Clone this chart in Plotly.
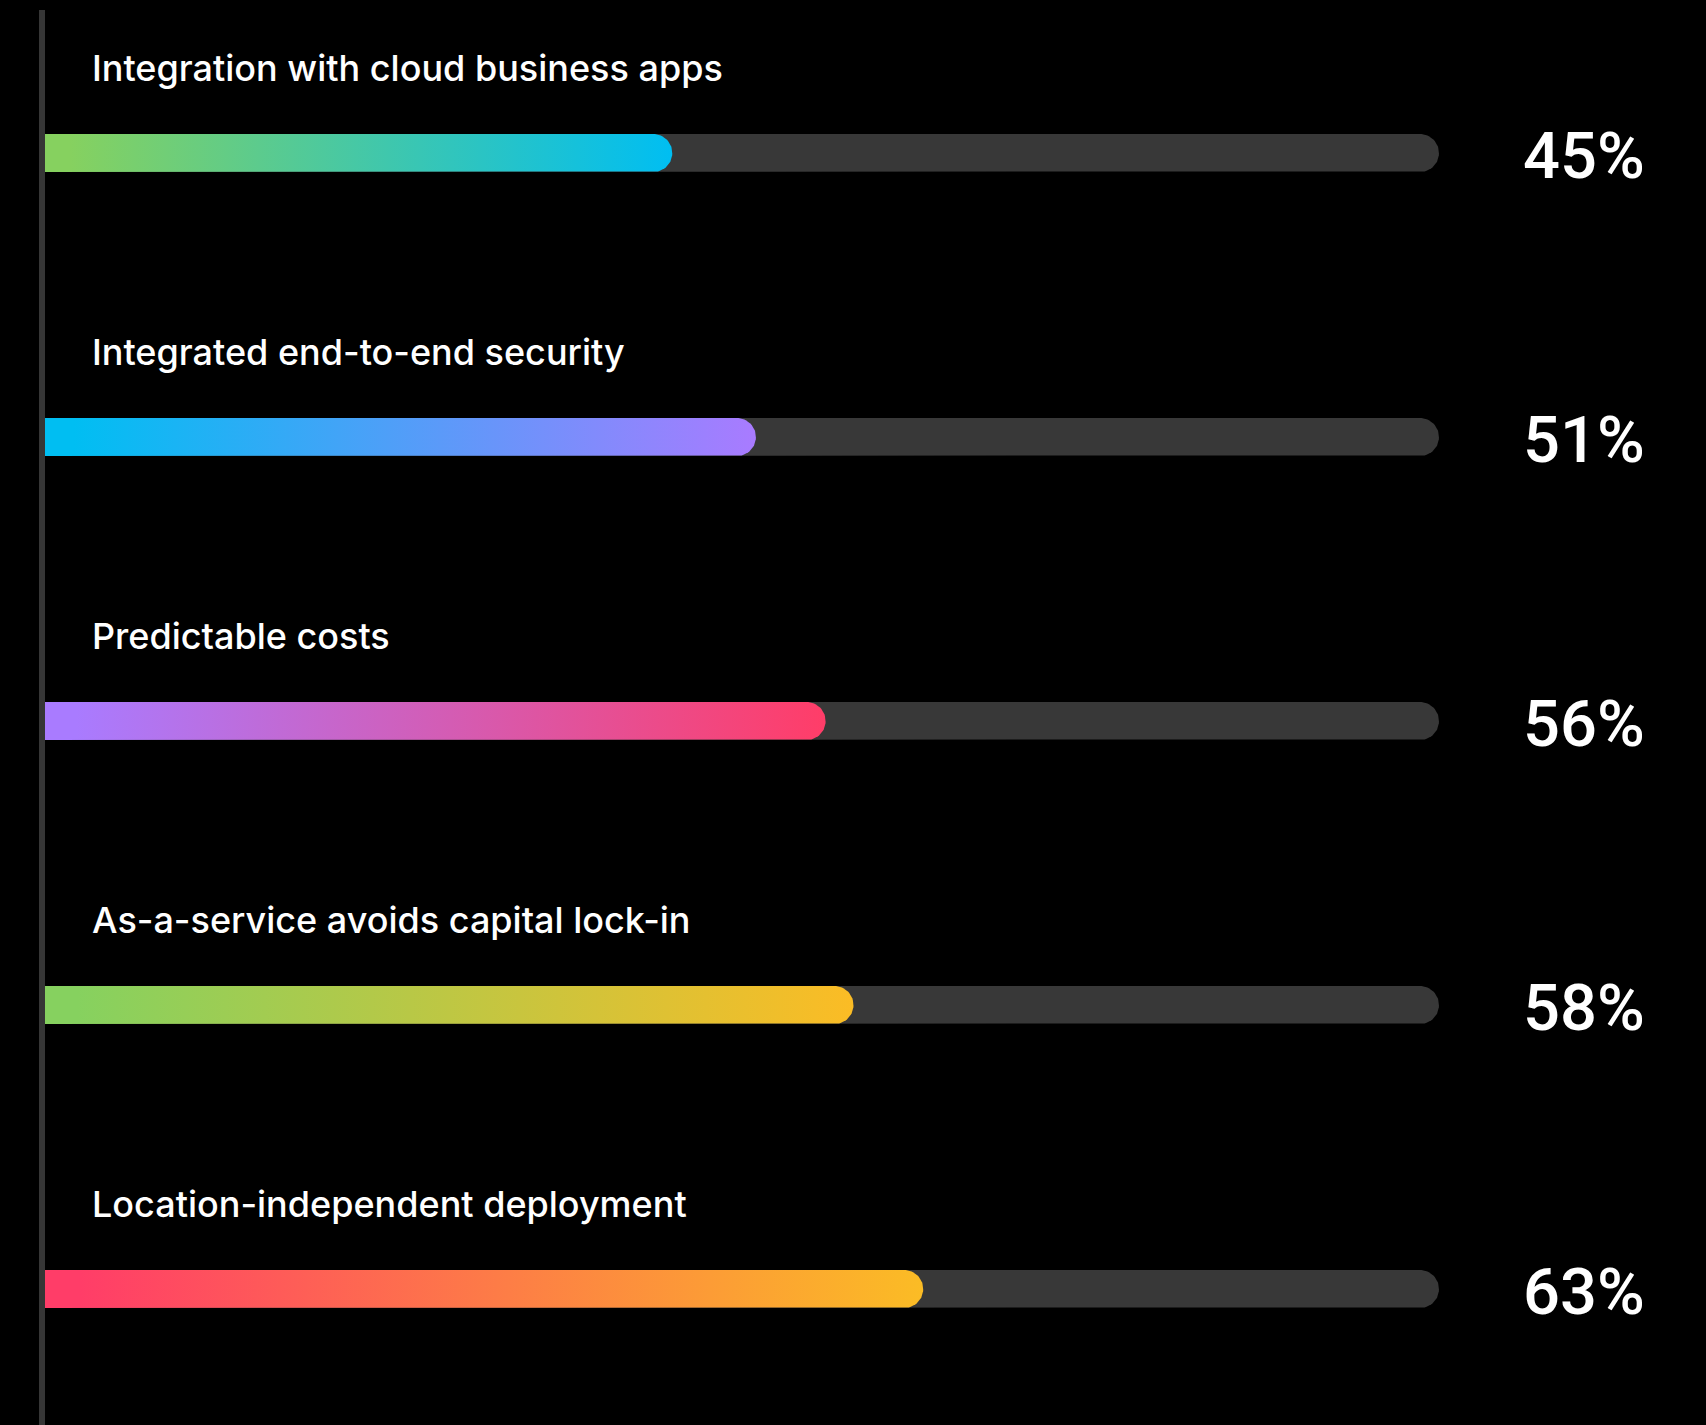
import numpy as np
import plotly.graph_objects as go

# Survey results: share of respondents citing each benefit
categories = [
    "Integration with cloud business apps",
    "Integrated end-to-end security",
    "Predictable costs",
    "As-a-service avoids capital lock-in",
    "Location-independent deployment",
]
values = [45, 51, 56, 58, 63]
value_labels = ["45%", "51%", "56%", "58%", "63%"]

# Gradient start / end colour for each bar
grad_start = ["#86D15F", "#00BEF2", "#A97BFF", "#86D15F", "#FF3D68"]
grad_end = ["#00BEF2", "#A97BFF", "#FF3D68", "#FBBC25", "#FBBC25"]

W, H = 1706, 1425
X0_PX, X100_PX = 45, 1439          # pixel span of the 0–100 % track
ROW0_PX, ROW_STEP_PX = 153, 284    # centre of first row, row spacing
BAR_H_PX = 38
TRACK = "#383838"
LABEL_FONT = "Inter, Liberation Sans, Arial, sans-serif"
VALUE_FONT = "Roboto, Liberation Sans, Arial, sans-serif"

px_per_x = (X100_PX - X0_PX) / 100.0
px_per_y = ROW_STEP_PX
y_top = -ROW0_PX / px_per_y
y_bot = (H - ROW0_PX) / px_per_y

half_h = (BAR_H_PX / 2) / px_per_y
r_x = (BAR_H_PX / 2) / px_per_x


def pill(x_end, yc, n=40):
    """Bar outline from 0 to x_end with a rounded right end."""
    xc = x_end - r_x
    t = np.linspace(-np.pi / 2, np.pi / 2, n)
    arc_x = xc + r_x * np.cos(t)
    arc_y = yc - half_h * np.sin(t)  # y axis is reversed
    xs = np.concatenate([[0], arc_x, [0, 0]])
    ys = np.concatenate([[yc + half_h], arc_y, [yc - half_h, yc + half_h]])
    return xs, ys


fig = go.Figure()

for i, (cat, v) in enumerate(zip(categories, values)):
    # background track (full 100 %)
    tx, ty = pill(100, i)
    fig.add_trace(go.Scatter(
        x=tx, y=ty, mode="lines", fill="toself", fillcolor=TRACK,
        line=dict(width=0, color=TRACK), hoverinfo="skip", showlegend=False,
    ))
    # value bar with horizontal gradient
    bx, by = pill(v, i)
    fig.add_trace(go.Scatter(
        x=bx, y=by, mode="lines", fill="toself",
        fillgradient=dict(
            type="horizontal",
            colorscale=[[0, grad_start[i]], [0.04, grad_start[i]], [1, grad_end[i]]],
        ),
        line=dict(width=0, color=grad_end[i]),
        name=cat, hovertemplate=f"{cat}: {v}%<extra></extra>", showlegend=False,
    ))

annotations = []
for i, (cat, lab) in enumerate(zip(categories, value_labels)):
    annotations.append(dict(
        x=90 / W, xref="paper", y=i, yref="y", yshift=85,
        text=cat, showarrow=False, xanchor="left", yanchor="middle",
        font=dict(family=LABEL_FONT, size=36, color="white", weight=500),
    ))
    annotations.append(dict(
        x=1647 / W, xref="paper", y=i, yref="y", yshift=-3,
        text=lab, showarrow=False, xanchor="right", yanchor="middle",
        font=dict(family=VALUE_FONT, size=65, color="white", weight=500),
    ))

fig.update_layout(
    width=W, height=H,
    margin=dict(l=0, r=0, t=0, b=0),
    paper_bgcolor="black", plot_bgcolor="black",
    xaxis=dict(domain=[X0_PX / W, X100_PX / W], range=[0, 100],
               visible=False, fixedrange=True),
    yaxis=dict(range=[y_bot, y_top], visible=False, fixedrange=True),
    annotations=annotations,
    shapes=[dict(
        type="line", xref="paper", yref="paper",
        x0=42 / W, x1=42 / W, y0=0, y1=1 - 10 / H,
        line=dict(color="#363636", width=6),
    )],
)

fig.write_html("out.html")
